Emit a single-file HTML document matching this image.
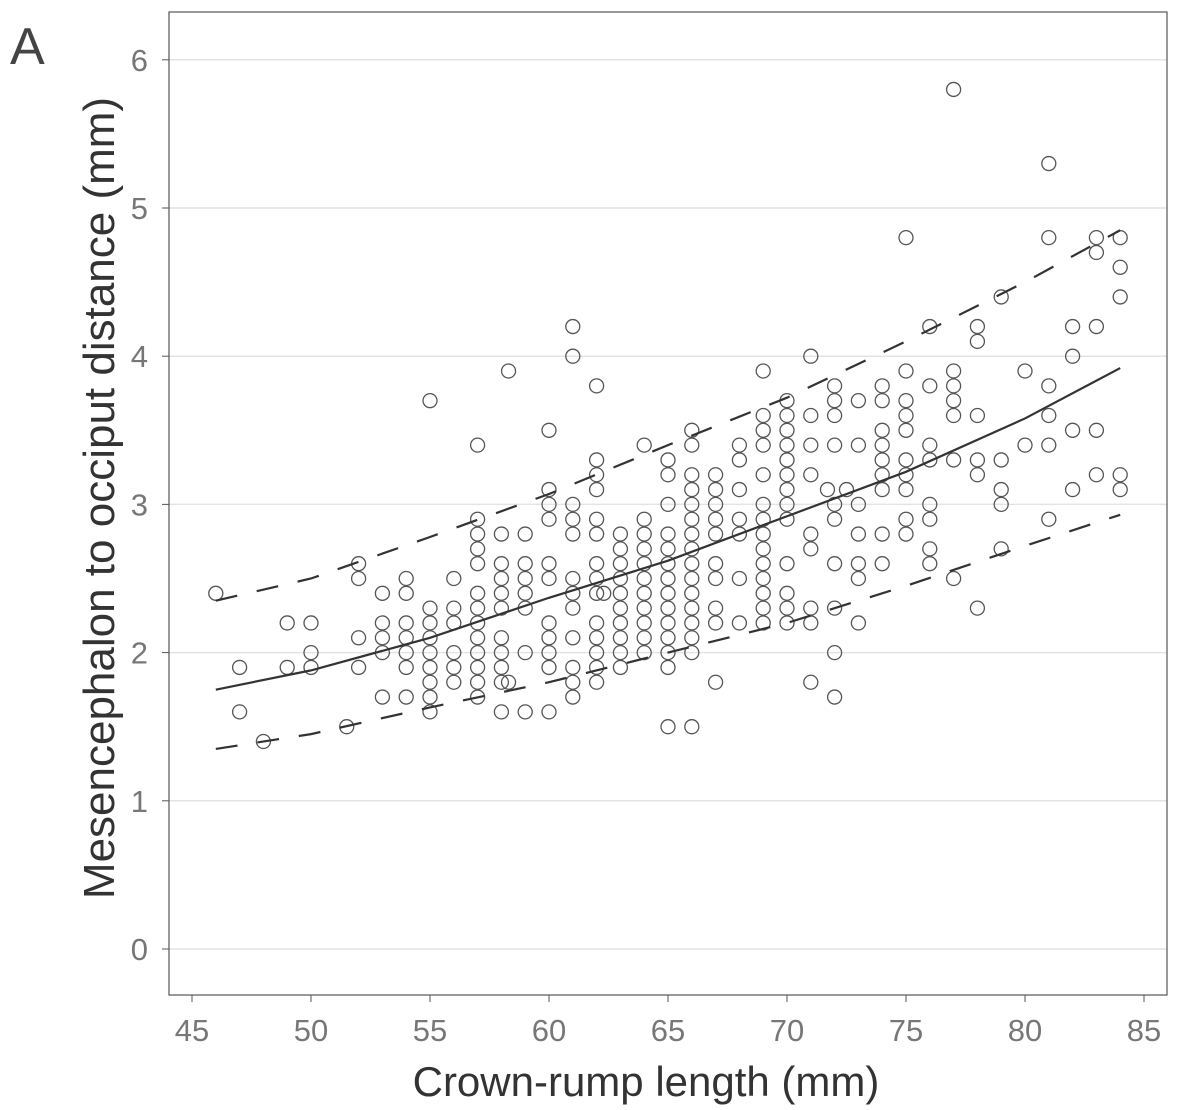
<!DOCTYPE html>
<html><head><meta charset="utf-8"><style>
body{margin:0;background:#fff;}
svg{display:block;font-family:"Liberation Sans",sans-serif;}
</style></head><body>
<svg id="chart" width="1181" height="1110">
<text x="10" y="64" font-size="52" fill="#444">A</text>
<g id="grid"></g>
<g id="marks"></g>
<rect x="169" y="12" width="998" height="983" fill="none" stroke="#555" stroke-width="1.2"/>
<g id="axes"></g>
<text x="646" y="1096" font-size="42" fill="#333" text-anchor="middle">Crown-rump length (mm)</text>
<text transform="translate(114,498) rotate(-90)" font-size="44" fill="#333" text-anchor="middle">Mesencephalon to occiput distance (mm)</text>
</svg>
<script>
const xTicks=[45,50,55,60,65,70,75,80,85];
const yTicks=[0,1,2,3,4,5,6];
const pointCols=[
[46,[2.4]],[47,[1.9,1.6]],[48,[1.4]],[49,[2.2,1.9]],[50,[2.2,2.0,1.9]],[51.5,[1.5]],
[52,[2.6,2.5,2.1,1.9]],[53,[2.4,2.2,2.1,2.0,1.7]],[54,[2.5,2.4,2.2,2.1,2.0,1.9,1.7]],
[55,[3.7,2.3,2.2,2.1,2.0,1.9,1.8,1.7,1.6]],[56,[2.5,2.3,2.2,2.0,1.9,1.8]],
[57,[3.4,2.9,2.8,2.7,2.6,2.4,2.3,2.2,2.1,2.0,1.9,1.8,1.7]],
[58,[2.8,2.6,2.5,2.4,2.3,2.1,2.0,1.9,1.8,1.6]],[58.3,[3.9,1.8]],
[59,[2.8,2.6,2.5,2.4,2.3,2.0,1.6]],[60,[3.5,3.1,3.0,2.9,2.6,2.5,2.2,2.1,2.0,1.9,1.6]],
[61,[4.2,4.0,3.0,2.9,2.8,2.5,2.4,2.3,2.1,1.9,1.8,1.7]],
[62,[3.8,3.3,3.2,3.1,2.9,2.8,2.6,2.5,2.4,2.2,2.1,2.0,1.9,1.8]],[62.3,[2.4]],
[63,[2.8,2.7,2.6,2.5,2.4,2.3,2.2,2.1,2.0,1.9]],
[64,[3.4,2.9,2.8,2.7,2.6,2.5,2.4,2.3,2.2,2.1,2.0]],
[65,[3.3,3.2,3.0,2.8,2.7,2.6,2.5,2.4,2.3,2.2,2.1,2.0,1.9,1.5]],
[66,[3.5,3.4,3.2,3.1,3.0,2.9,2.8,2.7,2.6,2.5,2.4,2.3,2.2,2.1,2.0,1.5]],
[67,[3.2,3.1,3.0,2.9,2.8,2.6,2.5,2.3,2.2,1.8]],[68,[3.4,3.3,3.1,2.9,2.8,2.5,2.2]],
[69,[3.9,3.6,3.5,3.4,3.2,3.0,2.9,2.8,2.7,2.6,2.5,2.4,2.3,2.2]],
[70,[3.7,3.6,3.5,3.4,3.3,3.2,3.1,3.0,2.9,2.6,2.4,2.3,2.2]],
[71,[4.0,3.6,3.4,3.2,2.8,2.7,2.3,2.2,1.8]],[71.7,[3.1]],
[72,[3.8,3.7,3.6,3.4,3.0,2.9,2.6,2.3,2.0,1.7]],[72.5,[3.1]],
[73,[3.7,3.4,3.0,2.8,2.6,2.5,2.2]],[74,[3.8,3.7,3.5,3.4,3.3,3.2,3.1,2.8,2.6]],
[75,[4.8,3.9,3.7,3.6,3.5,3.3,3.2,3.1,2.9,2.8]],[76,[4.2,3.8,3.4,3.3,3.0,2.9,2.7,2.6]],
[77,[5.8,3.9,3.8,3.7,3.6,3.3,2.5]],[78,[4.2,4.1,3.6,3.3,3.2,2.3]],
[79,[4.4,3.3,3.1,3.0,2.7]],[80,[3.9,3.4]],[81,[5.3,4.8,3.8,3.6,3.4,2.9]],
[82,[4.2,4.0,3.5,3.1]],[83,[4.8,4.7,4.2,3.5,3.2]],[84,[4.8,4.6,4.4,3.2,3.1]]
];
const curveX=[46,50,55,60,65,70,75,80,84];
const fitY=[1.75,1.88,2.1,2.37,2.62,2.92,3.22,3.58,3.92];
const upperY=[2.35,2.5,2.78,3.07,3.4,3.72,4.1,4.5,4.85];
const lowerY=[1.35,1.45,1.63,1.8,2.0,2.2,2.45,2.72,2.93];

const NS='http://www.w3.org/2000/svg';
const sx=v=>311+(v-50)*23.8;
const sy=v=>949-v*148.2;
function mk(tag,attrs,parent){const e=document.createElementNS(NS,tag);for(const k in attrs)e.setAttribute(k,attrs[k]);parent.appendChild(e);return e;}
const grid=document.getElementById('grid'),marks=document.getElementById('marks'),axes=document.getElementById('axes');
yTicks.forEach(t=>{
  const g=mk('line',{x1:169,x2:1167,y1:sy(t),y2:sy(t),stroke:'#e3e3e3','stroke-width':1.5},grid);
  
  
  const tk=mk('line',{x1:162,x2:169,y1:sy(t),y2:sy(t),stroke:'#555'},axes);
  
  
  const lb=mk('text',{x:148,y:sy(t)+11,'font-size':31,fill:'#777','text-anchor':'end'},axes);
  lb.textContent=t;
  
  
});
xTicks.forEach(t=>{
  const tk=mk('line',{x1:sx(t),x2:sx(t),y1:995,y2:1002,stroke:'#555'},axes);
  
  
  const lb=mk('text',{x:sx(t),y:1041,'font-size':31,fill:'#777','text-anchor':'middle'},axes);
  lb.textContent=t;
  
  
});
pointCols.forEach(([x,ys])=>ys.forEach(y=>{
  const c=mk('circle',{cx:sx(x),cy:sy(y),r:7,fill:'none',stroke:'#555','stroke-width':1.3},marks);
  
  
}));
function curve(ys,name,dash,w){
  const d=curveX.map((x,i)=>(i?'L':'M')+sx(x)+','+sy(ys[i])).join(' ');
  const p=mk('path',{d:d,fill:'none',stroke:'#333','stroke-width':w},marks);
  if(dash)p.setAttribute('stroke-dasharray',dash);
  
  
}
curve(fitY,'fitted-mean-line',null,2.2);
curve(upperY,'upper-limit-line','22 20',2.2);
curve(lowerY,'lower-limit-line','22 20',2.2);
</script>
</body></html>
